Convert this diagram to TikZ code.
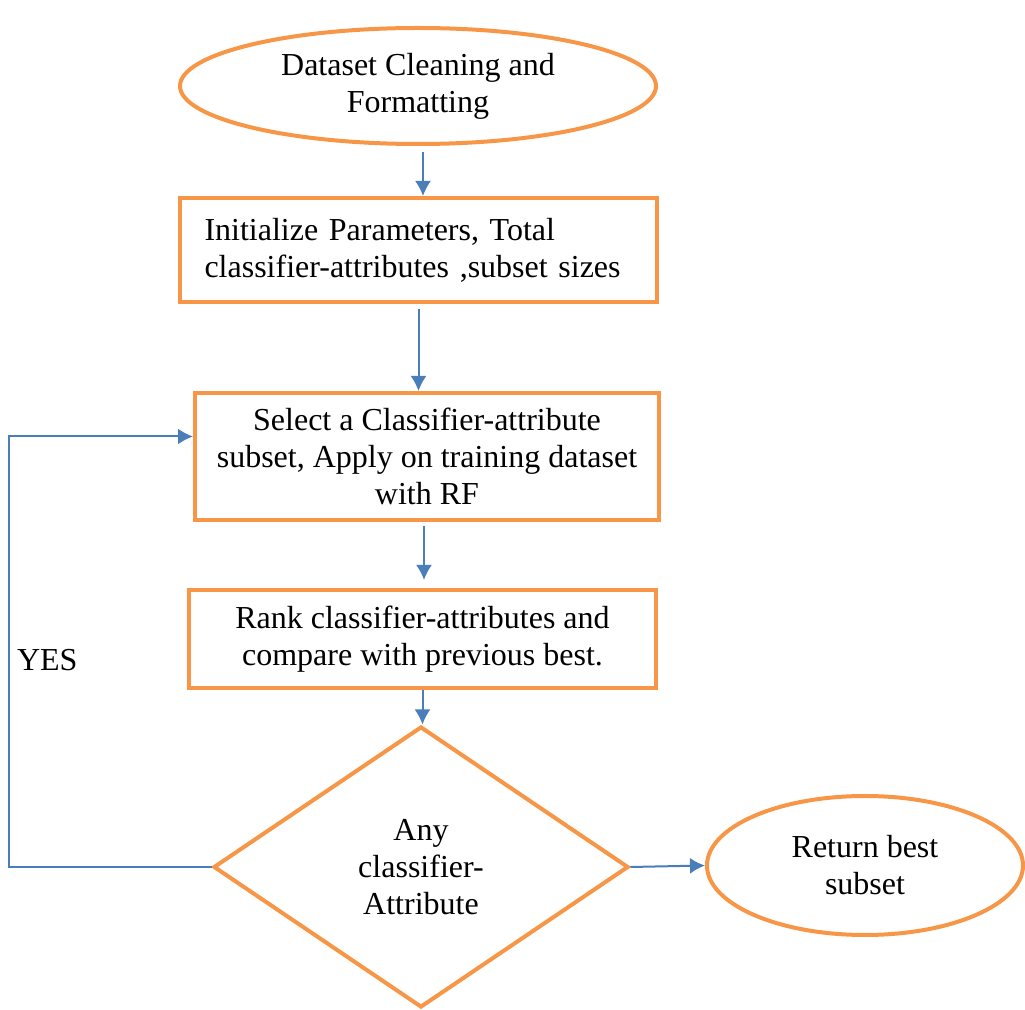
\documentclass[tikz,border=0pt]{standalone}
\usepackage{fontspec}
\setmainfont{Liberation Serif}
\usetikzlibrary{shapes.geometric,arrows.meta}
\definecolor{boxorange}{HTML}{F79646}
\definecolor{lineblue}{HTML}{4A7EBB}

\begin{document}
\begin{tikzpicture}[x=0.5pt,y=-0.5pt,
  block/.style={draw=boxorange,line width=2pt,inner sep=0pt,font=\fontsize{16}{18.5}\selectfont,align=center},
  flow/.style={lineblue,line width=1pt,-{Latex[length=7.5pt,width=8pt]}}]
\useasboundingbox (0,0) rectangle (1025,1010);

\node [block,ellipse,minimum width=238pt,minimum height=58pt] (clean) at (418,86) {Dataset Cleaning and\\Formatting};
\node [block,rectangle,minimum width=238.5pt,minimum height=52pt,inner xsep=12pt,text width=214pt,align=left] (init) at (418.5,250) {Initialize Parameters, Total\\classifier-attributes ,subset sizes};
\node [block,rectangle,minimum width=232pt,minimum height=63.5pt] (select) at (427,456.5) {Select a Classifier-attribute\\subset, Apply on training dataset\\with RF};
\node [block,rectangle,minimum width=233.5pt,minimum height=49pt] (rank) at (422.5,639) {Rank classifier-attributes and\\compare with previous best.};
\node [block,diamond,minimum width=207.5pt,minimum height=140.5pt] (any) at (421,867) {Any\\classifier-\\Attribute};
\node [block,ellipse,minimum width=158pt,minimum height=69.5pt] (best) at (865,865.5) {Return best\\subset};

\node [font=\fontsize{16}{18.5}\selectfont,anchor=west] (yes) at (10,660) {YES};

\draw [flow] ([xshift=2.5pt,yshift=-3pt]clean.south) -- ([xshift=2.5pt]clean.south |- init.north);
\draw [flow] ([yshift=-2.5pt]init.south) -- (init.south |- select.north);
\draw [flow] ([xshift=-1.5pt,yshift=-2pt]select.south) -- ([xshift=-1.5pt,yshift=4pt]select.south |- rank.north);
\draw [flow] (rank.south) -- (rank.south |- any.north);
\draw [flow] (any.east) -- (best.west);

% back to the subset step
\draw [flow] (any.west) -- ++(-203,0) |- ([yshift=10pt]select.west);

\end{tikzpicture}
\end{document}
